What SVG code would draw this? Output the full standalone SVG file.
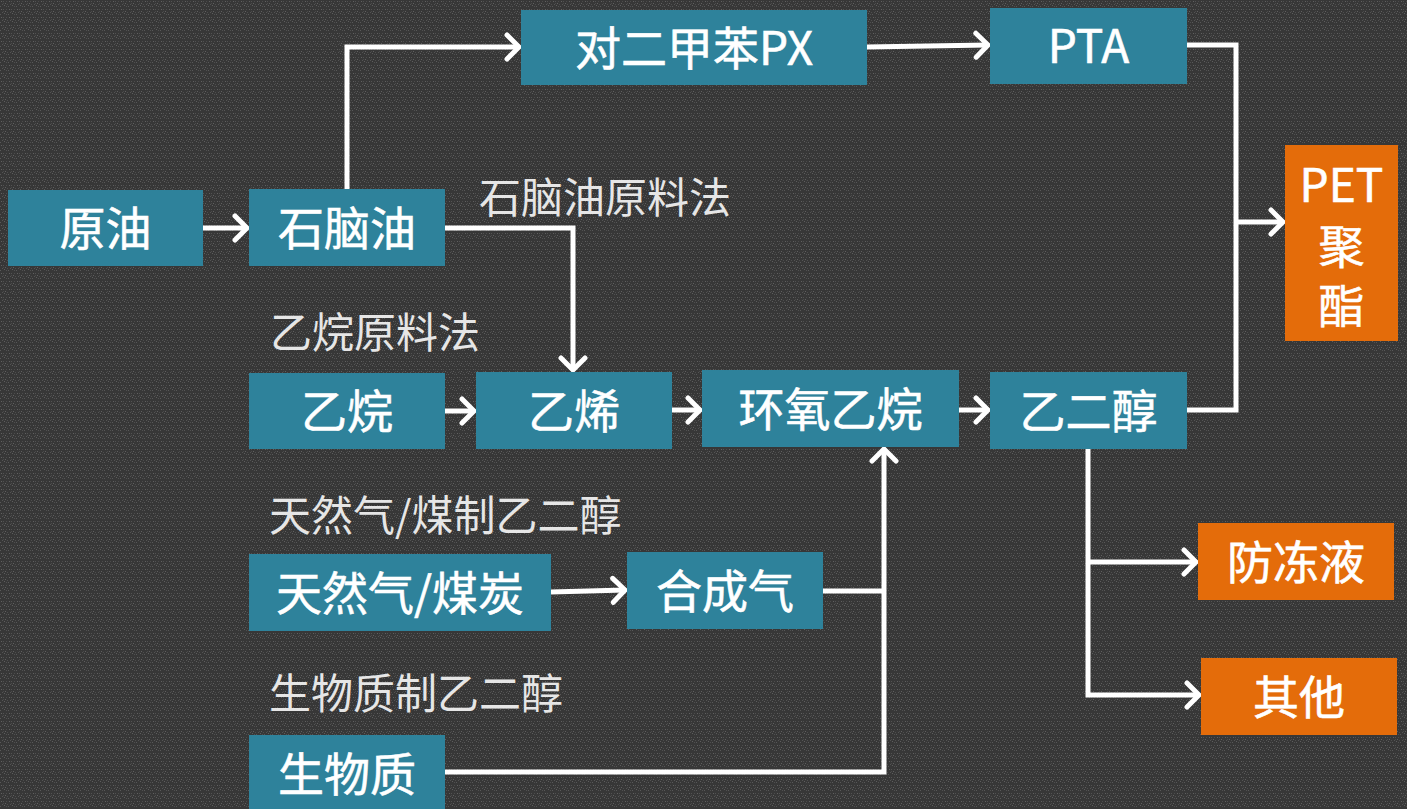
<svg xmlns="http://www.w3.org/2000/svg" width="1407" height="809" viewBox="0 0 1407 809">
<defs>
<pattern id="bg" width="8" height="8" patternUnits="userSpaceOnUse">
<rect width="8" height="8" fill="#373737"/>
<rect x="1" y="1" width="1" height="1" fill="#606060"/>
<rect x="3" y="1" width="1" height="1" fill="#525252"/>
<rect x="5" y="3" width="1" height="1" fill="#606060"/>
<rect x="2" y="4" width="1" height="1" fill="#545454"/>
<rect x="4" y="5" width="1" height="1" fill="#5e5e5e"/>
<rect x="6" y="6" width="1" height="1" fill="#505050"/>
<rect x="0" y="6" width="1" height="1" fill="#585858"/>
<rect x="6" y="1" width="1" height="1" fill="#4c4c4c"/>
<rect x="3" y="3" width="1" height="1" fill="#4a4a4a"/>
<rect x="7" y="4" width="1" height="1" fill="#4e4e4e"/>
</pattern>
<marker id="ah" markerUnits="userSpaceOnUse" markerWidth="30" markerHeight="30" refX="15" refY="15" orient="auto" viewBox="0 0 30 30">
<path d="M3,3 L15,15 L3,27" fill="none" stroke="#fff" stroke-width="5" stroke-linecap="round" stroke-linejoin="miter"/>
</marker>
</defs>
<style>
.n{fill:#2e829b}
.o{fill:#e46c0a}
.t{font-family:"Noto Sans CJK SC","Noto Sans",sans-serif;font-size:46px;font-weight:400;fill:#fff;text-anchor:middle;stroke:#fff;stroke-width:0.6}
.l{font-family:"Noto Sans CJK SC","Noto Sans",sans-serif;font-size:42px;fill:#e6e6e6}
.c{fill:none;stroke:#fff;stroke-width:5}
</style>
<rect width="1407" height="809" fill="url(#bg)"/>
<g id="connectors">
<path class="c" d="M203,228 L247,228" marker-end="url(#ah)"/>
<path class="c" d="M347,189 L347,47 L519,47" marker-end="url(#ah)"/>
<path class="c" d="M867,47 L988,45" marker-end="url(#ah)"/>
<path class="c" d="M1187,45 L1236,45 L1236,410 L1187,410"/>
<path class="c" d="M1236,222 L1283,222" marker-end="url(#ah)"/>
<path class="c" d="M445,228 L573,228 L573,370" marker-end="url(#ah)"/>
<path class="c" d="M445,411 L474,411" marker-end="url(#ah)"/>
<path class="c" d="M672,410 L700,410" marker-end="url(#ah)"/>
<path class="c" d="M959,410 L988,410" marker-end="url(#ah)"/>
<path class="c" d="M551,592 L625,590" marker-end="url(#ah)"/>
<path class="c" d="M823,591 L885,591"/>
<path class="c" d="M445,772 L884,772 L884,449" marker-end="url(#ah)"/>
<path class="c" d="M1088,449 L1088,695 L1199,695" marker-end="url(#ah)"/>
<path class="c" d="M1088,562 L1196,562" marker-end="url(#ah)"/>
</g>
<g id="labels">
<text class="l" x="479" y="213">石脑油原料法</text>
<text class="l" x="270" y="348">乙烷原料法</text>
<text class="l" x="269" y="531">天然气/煤制乙二醇</text>
<text class="l" x="269" y="709">生物质制乙二醇</text>
</g>
<g id="n-yuanyou"><rect class="n" x="8" y="190" width="195" height="76"/><text class="t" x="105.5" y="245">原油</text></g>
<g id="n-shinaoyou"><rect class="n" x="249" y="189" width="196" height="77"/><text class="t" x="347" y="245">石脑油</text></g>
<g id="n-px"><rect class="n" x="521" y="10" width="346" height="75"/><text class="t" x="694" y="65">对二甲苯PX</text></g>
<g id="n-pta"><rect class="n" x="990" y="8" width="197" height="76"/><text class="t" x="1088.5" y="63">PTA</text></g>
<g id="n-pet"><rect class="o" x="1285" y="145" width="113" height="196"/><text class="t" x="1341.5" y="202">PET</text><text class="t" x="1341.5" y="263">聚</text><text class="t" x="1341.5" y="323">酯</text></g>
<g id="n-yiwan"><rect class="n" x="249" y="373" width="196" height="76"/><text class="t" x="347" y="428">乙烷</text></g>
<g id="n-yixi"><rect class="n" x="476" y="372" width="196" height="77"/><text class="t" x="574" y="428">乙烯</text></g>
<g id="n-hyyw"><rect class="n" x="702" y="370" width="257" height="77"/><text class="t" x="830.5" y="426">环氧乙烷</text></g>
<g id="n-yec"><rect class="n" x="990" y="372" width="197" height="77"/><text class="t" x="1088.5" y="428">乙二醇</text></g>
<g id="n-trq"><rect class="n" x="249" y="554" width="302" height="77"/><text class="t" x="400" y="610">天然气/煤炭</text></g>
<g id="n-hcq"><rect class="n" x="627" y="552" width="196" height="77"/><text class="t" x="725" y="608">合成气</text></g>
<g id="n-swz"><rect class="n" x="249" y="735" width="196" height="80"/><text class="t" x="347" y="791">生物质</text></g>
<g id="n-fdy"><rect class="o" x="1198" y="523" width="196" height="77"/><text class="t" x="1296" y="579">防冻液</text></g>
<g id="n-qt"><rect class="o" x="1201" y="658" width="196" height="77"/><text class="t" x="1299" y="714">其他</text></g>
</svg>
